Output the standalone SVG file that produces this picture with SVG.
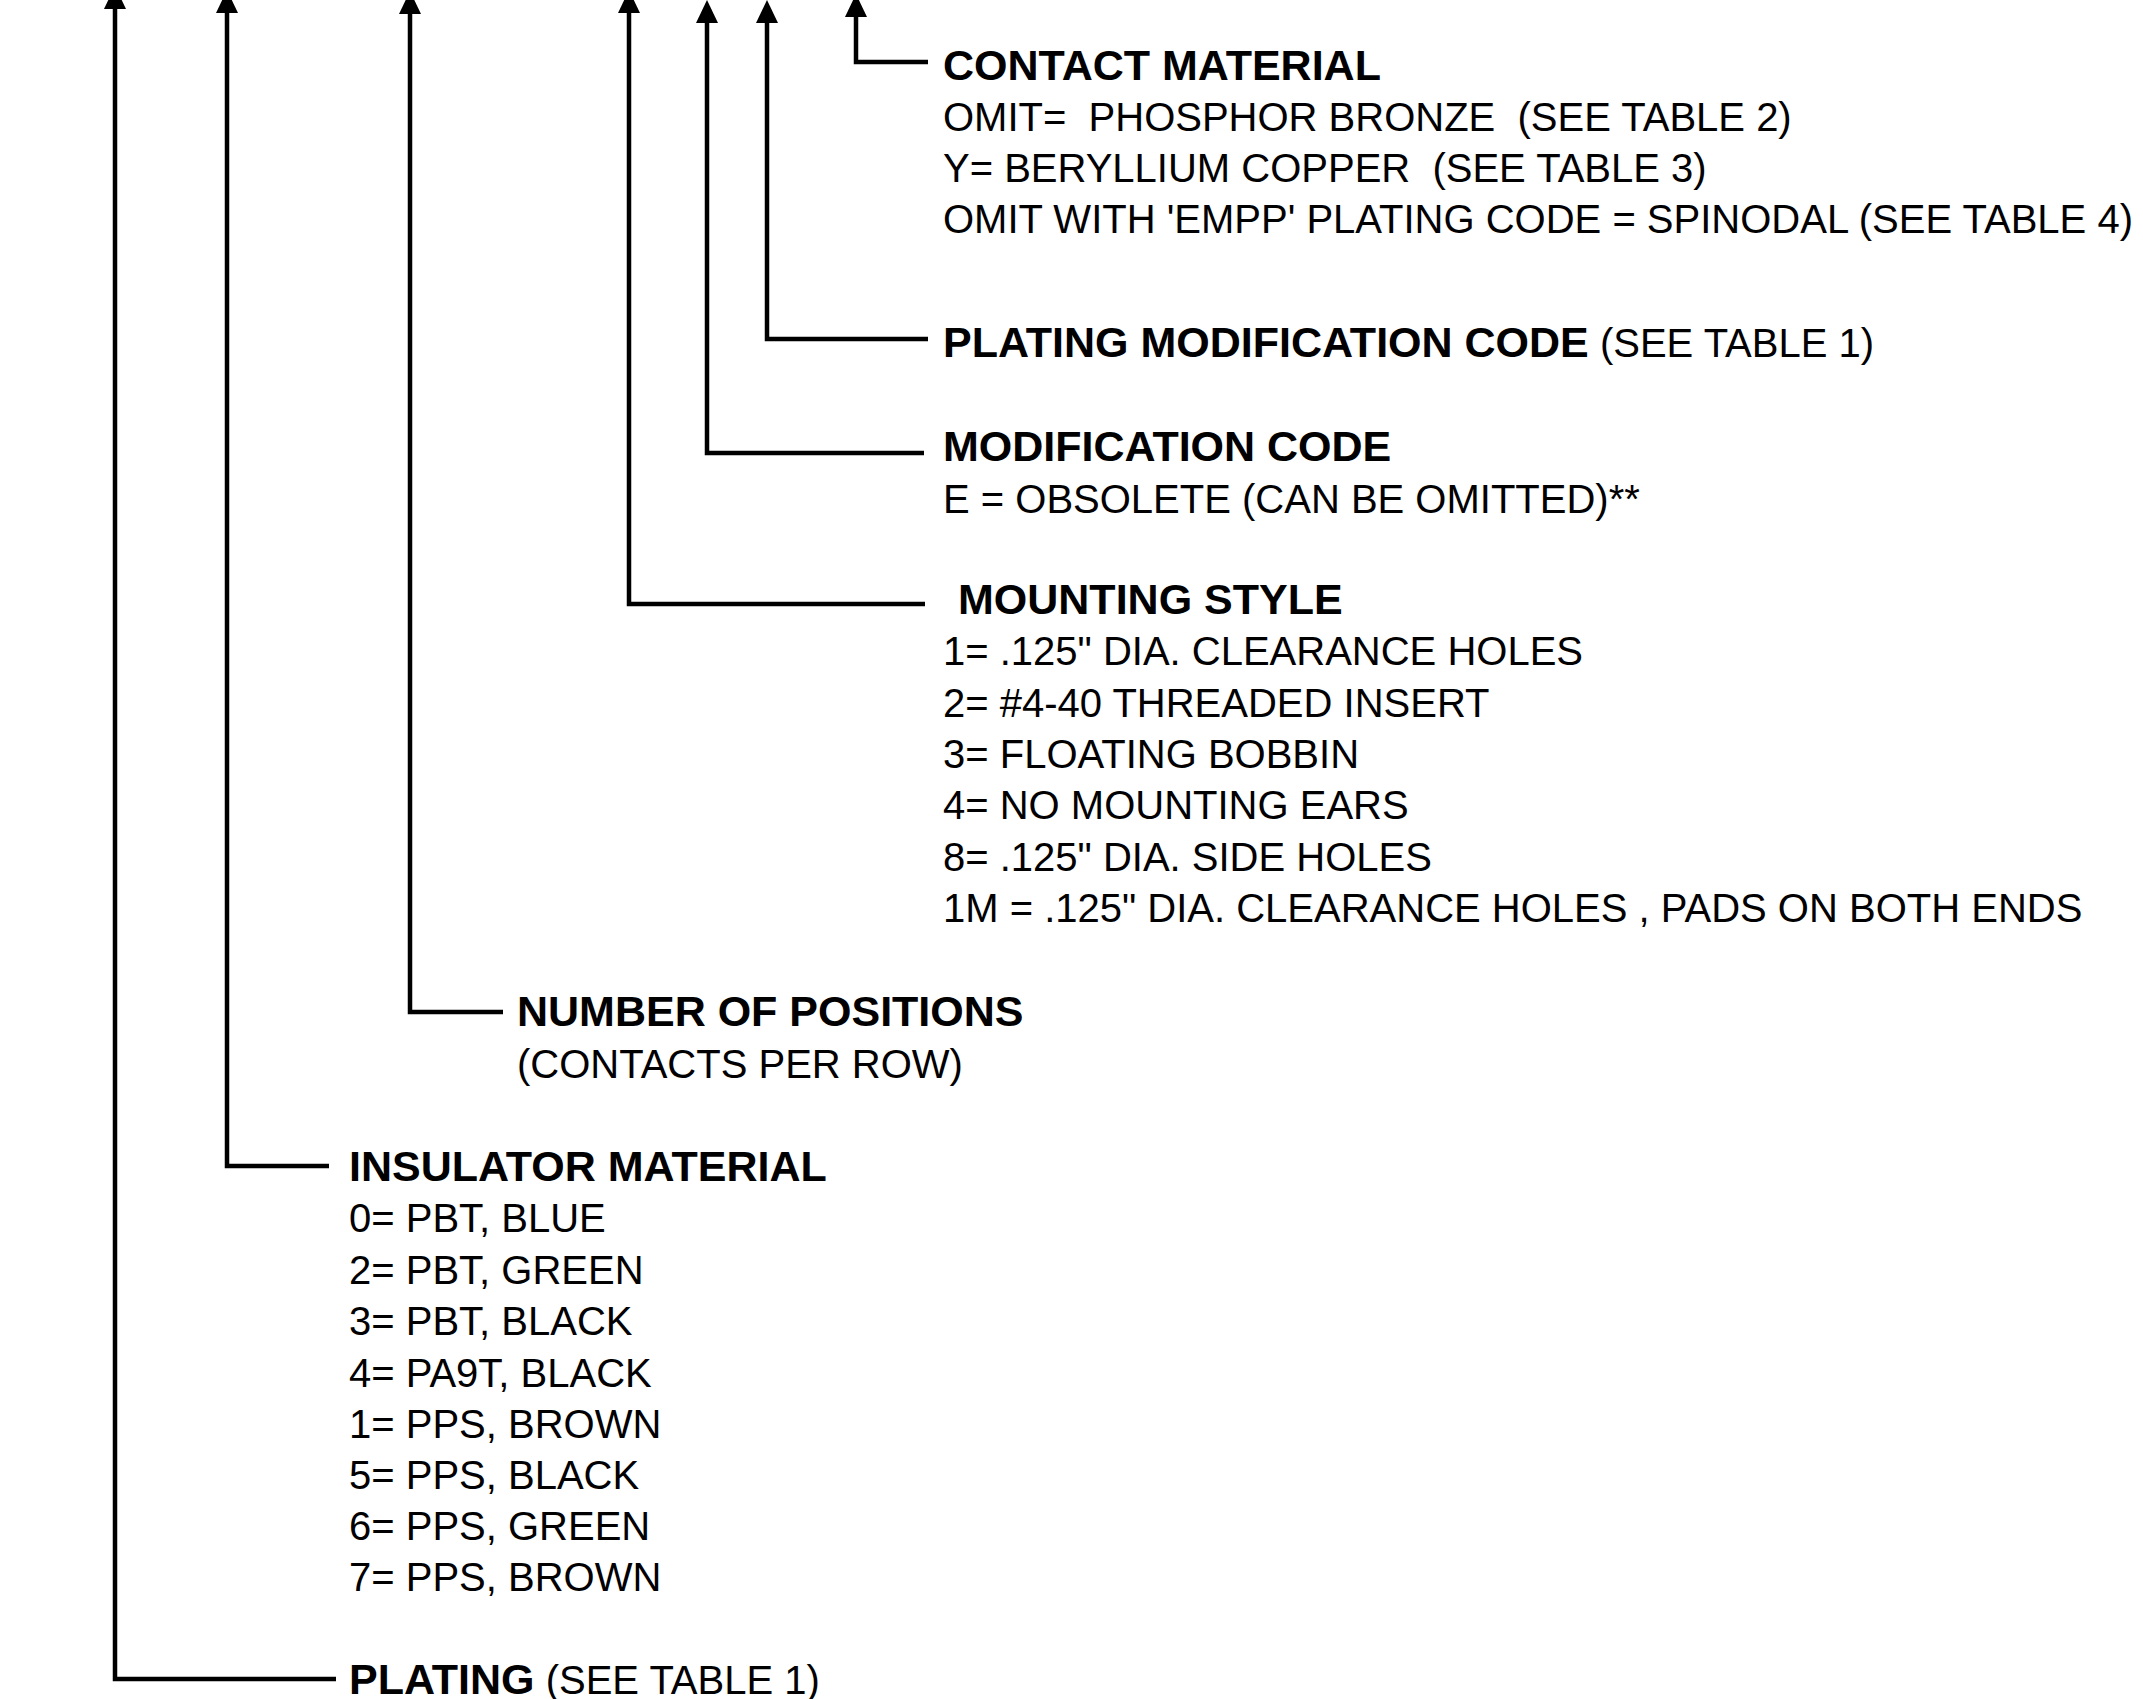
<svg xmlns="http://www.w3.org/2000/svg" width="2143" height="1699" viewBox="0 0 2143 1699">
<defs>
<marker id="ah" markerUnits="userSpaceOnUse" markerWidth="24" markerHeight="24" viewBox="0 0 24 24" refX="0" refY="11" orient="auto-start-reverse">
<path d="M0,0 L23,11 L0,22 z" fill="#000"/>
</marker>
<style>
.c{fill:none;stroke:#000;stroke-width:4.5;stroke-linejoin:miter;marker-start:url(#ah)}
.t{font-family:"Liberation Sans",Arial,sans-serif;font-size:40px;fill:#000;white-space:pre}
.b{font-weight:bold;font-size:43px}
</style>
</defs>
<rect width="2143" height="1699" fill="#fff"/>
<g id="connectors">
<path class="c" d="M856,17 V62 H928"/>
<path class="c" d="M767,23 V339 H928"/>
<path class="c" d="M707,23 V453 H924"/>
<path class="c" d="M629,13 V604 H925"/>
<path class="c" d="M410,14 V1012 H503"/>
<path class="c" d="M227,13 V1166 H329"/>
<path class="c" d="M115,9 V1679 H336"/>
</g>
<g id="contact-material">
<text class="t b" x="943" y="80">CONTACT MATERIAL</text>
<text class="t" x="943" y="131">OMIT=  PHOSPHOR BRONZE  (SEE TABLE 2)</text>
<text class="t" x="943" y="182">Y= BERYLLIUM COPPER  (SEE TABLE 3)</text>
<text class="t" x="943" y="233">OMIT WITH 'EMPP' PLATING CODE = SPINODAL (SEE TABLE 4)</text>
</g>
<g id="plating-modification-code">
<text class="t" x="943" y="357"><tspan class="b">PLATING MODIFICATION CODE</tspan> (SEE TABLE 1)</text>
</g>
<g id="modification-code">
<text class="t b" x="943" y="461">MODIFICATION CODE</text>
<text class="t" x="943" y="513">E = OBSOLETE (CAN BE OMITTED)**</text>
</g>
<g id="mounting-style">
<text class="t b" x="958" y="614">MOUNTING STYLE</text>
<text class="t" x="943" y="665">1= .125" DIA. CLEARANCE HOLES</text>
<text class="t" x="943" y="717">2= #4-40 THREADED INSERT</text>
<text class="t" x="943" y="768">3= FLOATING BOBBIN</text>
<text class="t" x="943" y="819">4= NO MOUNTING EARS</text>
<text class="t" x="943" y="871">8= .125" DIA. SIDE HOLES</text>
<text class="t" x="943" y="922">1M = .125" DIA. CLEARANCE HOLES , PADS ON BOTH ENDS</text>
</g>
<g id="number-of-positions">
<text class="t b" x="517" y="1026">NUMBER OF POSITIONS</text>
<text class="t" x="517" y="1078">(CONTACTS PER ROW)</text>
</g>
<g id="insulator-material">
<text class="t b" x="349" y="1181">INSULATOR MATERIAL</text>
<text class="t" x="349" y="1232">0= PBT, BLUE</text>
<text class="t" x="349" y="1284">2= PBT, GREEN</text>
<text class="t" x="349" y="1335">3= PBT, BLACK</text>
<text class="t" x="349" y="1387">4= PA9T, BLACK</text>
<text class="t" x="349" y="1438">1= PPS, BROWN</text>
<text class="t" x="349" y="1489">5= PPS, BLACK</text>
<text class="t" x="349" y="1540">6= PPS, GREEN</text>
<text class="t" x="349" y="1591">7= PPS, BROWN</text>
</g>
<g id="plating">
<text class="t" x="349" y="1694"><tspan class="b">PLATING</tspan> (SEE TABLE 1)</text>
</g>
</svg>
